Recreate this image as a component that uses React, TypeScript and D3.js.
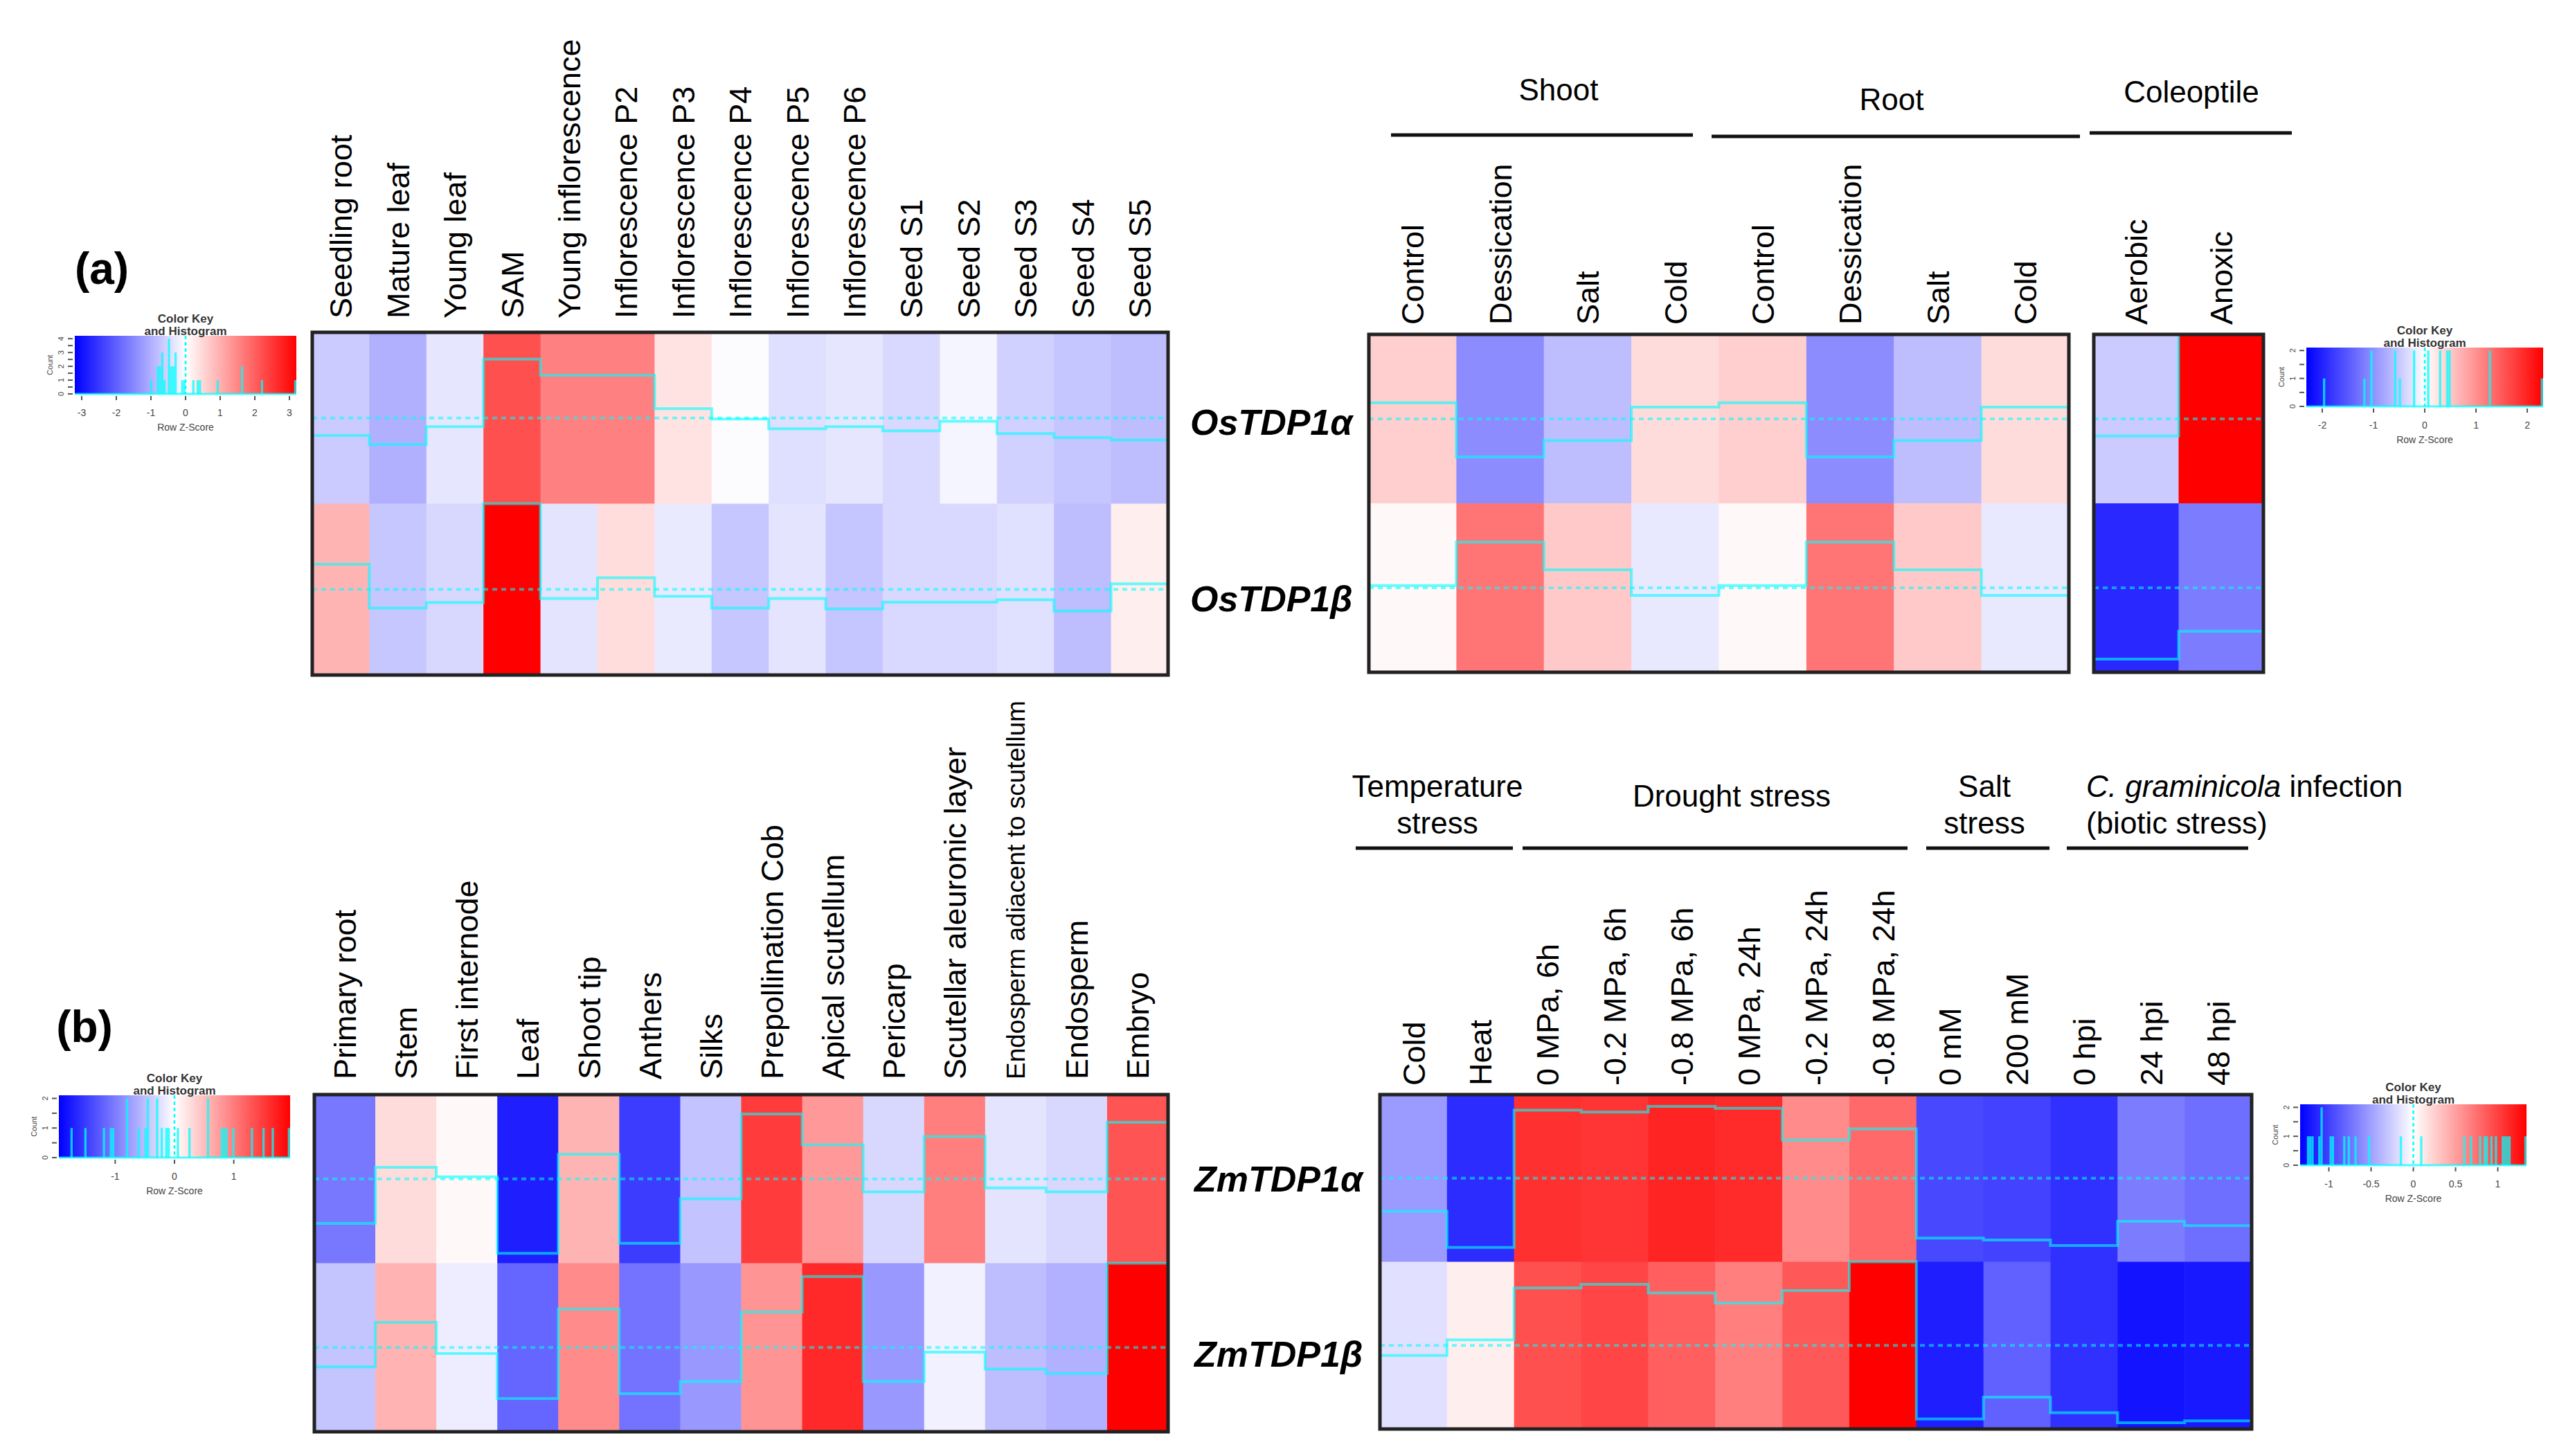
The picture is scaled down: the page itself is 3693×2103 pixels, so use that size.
import React from "react";
import * as d3 from "d3";

const FONT = "'Liberation Sans', Arial, Helvetica, sans-serif";
const TRACE = "#00ffff";

// (a) rice, tissues
const osTissues = [
  "Seedling root", "Mature leaf", "Young leaf", "SAM", "Young inflorescence",
  "Inflorescence P2", "Inflorescence P3", "Inflorescence P4", "Inflorescence P5",
  "Inflorescence P6", "Seed S1", "Seed S2", "Seed S3", "Seed S4", "Seed S5",
];
const osTissueAlpha = [-0.65, -0.99, -0.32, 2.2, 1.6, 1.6, 0.35, -0.04, -0.4, -0.32, -0.48, -0.12, -0.58, -0.73, -0.82];
const osTissueBeta = [0.94, -0.7, -0.49, 3.2, -0.34, 0.43, -0.26, -0.7, -0.34, -0.73, -0.48, -0.48, -0.39, -0.81, 0.21];

// (a) rice, stress (shoot + root) and coleoptile
const osStress = ["Control", "Dessication", "Salt", "Cold", "Control", "Dessication", "Salt", "Cold"];
const osStressAlpha = [0.44, -1.04, -0.59, 0.32, 0.44, -1.04, -0.59, 0.32];
const osStressBeta = [0.06, 1.25, 0.49, -0.21, 0.06, 1.25, 0.49, -0.21];
const osColeoptile = ["Aerobic", "Anoxic"];
const osColeAlpha = [-0.47, 2.31];
const osColeBeta = [-1.95, -1.19];

// (b) maize, tissues
const zmTissues = [
  "Primary root", "Stem", "First internode", "Leaf", "Shoot tip", "Anthers", "Silks",
  "Prepollination Cob", "Apical scutellum", "Pericarp", "Scutellar aleuronic layer",
  "Endosperm adiacent to scutellum", "Endosperm", "Embryo",
];
const zmTissueAlpha = [-1.03, 0.27, 0.05, -1.72, 0.57, -1.49, -0.46, 1.5, 0.79, -0.3, 0.98, -0.21, -0.3, 1.31];
const zmTissueBeta = [-0.45, 0.58, -0.14, -1.18, 0.89, -1.07, -0.79, 0.82, 1.64, -0.79, -0.11, -0.5, -0.6, 1.95];

// (b) maize, stress
const zmStress = [
  "Cold", "Heat", "0 MPa, 6h", "-0.2 MPa, 6h", "-0.8 MPa, 6h", "0 MPa, 24h",
  "-0.2 MPa, 24h", "-0.8 MPa, 24h", "0 mM", "200 mM", "0 hpi", "24 hpi", "48 hpi",
];
const zmStressAlpha = [-0.53, -1.11, 1.09, 1.06, 1.15, 1.12, 0.61, 0.79, -0.96, -0.99, -1.08, -0.69, -0.76];
const zmStressBeta = [-0.16, 0.09, 0.92, 0.98, 0.84, 0.68, 0.88, 1.34, -1.18, -0.83, -1.08, -1.24, -1.21];

const osGenes = ["OsTDP1α", "OsTDP1β"];
const zmGenes = ["ZmTDP1α", "ZmTDP1β"];

const keyTicksA1 = [-3, -2, -1, 0, 1, 2, 3];
const keyTicksA2 = [-2, -1, 0, 1, 2];
const keyTicksB1 = [-1, 0, 1];
const keyTicksB2 = [-1, -0.5, 0, 0.5, 1];

const smallLabels = new Set(["Endosperm adiacent to scutellum"]);

const maxAbs = (rows: number[][]) => d3.max(rows.flat(), (v) => Math.abs(v)) as number;

const colorFor = (R: number) =>
  d3.scaleLinear<string>().domain([-R, 0, R]).range(["#0000ff", "#ffffff", "#ff0000"]);

interface BlockProps {
  cols: string[];
  rows: number[][];
  R: number;
  x0: number;
  x1: number;
  y0: number;
  y1: number;
  gap?: number;
}

const Block = ({ cols, rows, R, x0, x1, y0, y1, gap = 20 }: BlockProps) => {
  const x = d3.scaleBand<number>().domain(d3.range(cols.length)).range([x0, x1]);
  const y = d3.scaleBand<number>().domain(d3.range(rows.length)).range([y0, y1]);
  const color = colorFor(R);
  const line = d3.line().curve(d3.curveStepAfter);
  return (
    <g>
      {rows.map((row, r) =>
        row.map((v, c) => (
          <rect
            key={`c${r}-${c}`}
            x={x(c)}
            y={y(r)}
            width={x.bandwidth() + 0.6}
            height={y.bandwidth() + 0.6}
            fill={color(v)}
          />
        ))
      )}
      {rows.map((row, r) => {
        const top = y(r) as number;
        const ty = d3.scaleLinear().domain([-R, R]).range([top + y.bandwidth(), top]);
        const pts: [number, number][] = row.map((v, c) => [x(c) as number, ty(v)]);
        pts.push([x1, ty(row[row.length - 1])]);
        return (
          <g key={`t${r}`}>
            <line x1={x0} x2={x1} y1={ty(0)} y2={ty(0)} stroke={TRACE} strokeWidth={4}
              strokeDasharray="7 6" opacity={0.55} />
            <path d={line(pts) || ""} fill="none" stroke={TRACE} strokeWidth={4} opacity={0.6} />
          </g>
        );
      })}
      <rect x={x0} y={y0} width={x1 - x0} height={y1 - y0} fill="none" stroke="#222" strokeWidth={5} />
      {cols.map((lab, c) => (
        <text
          key={`l${c}`}
          transform={`translate(${(x(c) as number) + x.bandwidth() / 2},${y0 - gap}) rotate(-90)`}
          dy="0.36em"
          fontSize={smallLabels.has(lab) ? 37 : 45}
          fill="#000"
        >
          {lab}
        </text>
      ))}
    </g>
  );
};

interface KeyProps {
  id: string;
  values: number[];
  R: number;
  ticks: number[];
  x0: number;
  x1: number;
  y0: number;
  y1: number;
}

const ColorKey = ({ id, values, R, ticks, x0, x1, y0, y1 }: KeyProps) => {
  const xs = d3.scaleLinear().domain([-R, R]).range([x0, x1]);
  const nb = 100;
  const step = (2 * R) / nb;
  const bins = d3
    .bin()
    .domain([-R, R])
    .thresholds(d3.range(1, nb).map((i) => -R + i * step))(values);
  const maxCount = (d3.max(bins, (b) => b.length) as number) || 1;
  const yc = d3.scaleLinear().domain([0, maxCount / 0.95]).range([y1, y0]);
  const countTicks = d3.range(0, maxCount + 0.01, 0.5);
  const cx = (x0 + x1) / 2;
  return (
    <g fontFamily={FONT}>
      <defs>
        <linearGradient id={id} x1="0" x2="1" y1="0" y2="0">
          <stop offset="0%" stopColor="#0000ff" />
          <stop offset="50%" stopColor="#ffffff" />
          <stop offset="100%" stopColor="#ff0000" />
        </linearGradient>
      </defs>
      <rect x={x0} y={y0} width={x1 - x0} height={y1 - y0} fill={`url(#${id})`} />
      {bins
        .filter((b) => b.length > 0)
        .map((b, i) => (
          <rect
            key={i}
            x={xs(b.x0 as number)}
            y={yc(b.length)}
            width={Math.max(xs(b.x1 as number) - xs(b.x0 as number), 3)}
            height={y1 - yc(b.length)}
            fill={TRACE}
            opacity={0.75}
          />
        ))}
      <line x1={x0} x2={x1} y1={y1} y2={y1} stroke={TRACE} strokeWidth={3} opacity={0.7} />
      <line x1={xs(0)} x2={xs(0)} y1={y0} y2={y1} stroke={TRACE} strokeWidth={2.5} strokeDasharray="5 4" />
      <text x={cx} y={y0 - 19} textAnchor="middle" fontSize={17} fontWeight="bold" fill="#333">Color Key</text>
      <text x={cx} y={y0 - 1} textAnchor="middle" fontSize={17} fontWeight="bold" fill="#333">and Histogram</text>
      {ticks.map((t) => (
        <g key={t}>
          <line x1={xs(t)} x2={xs(t)} y1={y1 + 3} y2={y1 + 9} stroke="#555" strokeWidth={2} />
          <text x={xs(t)} y={y1 + 32} textAnchor="middle" fontSize={14} fill="#444">{t}</text>
        </g>
      ))}
      <text x={cx} y={y1 + 53} textAnchor="middle" fontSize={14} fill="#444">Row Z-Score</text>
      {countTicks.map((t) => (
        <g key={`y${t}`}>
          <line x1={x0 - 10} x2={x0 - 3} y1={yc(t)} y2={yc(t)} stroke="#555" strokeWidth={2} />
          {Number.isInteger(t) && (
            <text transform={`translate(${x0 - 16},${yc(t)}) rotate(-90)`} textAnchor="middle"
              fontSize={11} fill="#444">{t}</text>
          )}
        </g>
      ))}
      <text transform={`translate(${x0 - 32},${(y0 + y1) / 2}) rotate(-90)`} textAnchor="middle"
        fontSize={11} fill="#444">Count</text>
    </g>
  );
};

const GeneLabels = ({ genes, x, ys }: { genes: string[]; x: number; ys: number[] }) => (
  <g>
    {genes.map((g, i) => (
      <text key={g} x={x} y={ys[i]} fontSize={52} fontWeight="bold" fontStyle="italic" fill="#000">
        {g}
      </text>
    ))}
  </g>
);

const Header = ({ lines, x, y, anchor = "middle" }: { lines: React.ReactNode[]; x: number; y: number; anchor?: string }) => (
  <g>
    {lines.map((l, i) => (
      <text key={i} x={x} y={y + i * 53} textAnchor={anchor} fontSize={44} fill="#000">
        {l}
      </text>
    ))}
  </g>
);

const Rule = ({ x1, x2, y }: { x1: number; x2: number; y: number }) => (
  <line x1={x1} x2={x2} y1={y} y2={y} stroke="#111" strokeWidth={5} />
);

export default function App() {
  const osT = [osTissueAlpha, osTissueBeta];
  const osS = [osStressAlpha, osStressBeta];
  const osC = [osColeAlpha, osColeBeta];
  const zmT = [zmTissueAlpha, zmTissueBeta];
  const zmS = [zmStressAlpha, zmStressBeta];
  const rA1 = maxAbs(osT);
  const rA2 = maxAbs([...osS, ...osC]);
  const rB1 = maxAbs(zmT);
  const rB2 = maxAbs(zmS);

  return (
    <svg
      width={3693}
      height={2103}
      style={{ position: "absolute", left: 0, top: 0, display: "block", background: "#fff" }}
      fontFamily={FONT}
    >
      <rect x={0} y={0} width={3693} height={2103} fill="#fff" />

      {/* ---------- (a) ---------- */}
      <text x={147} y={410} textAnchor="middle" fontSize={64} fontWeight="bold">(a)</text>
      <ColorKey id="keyA1" values={osT.flat()} R={rA1} ticks={keyTicksA1} x0={108} x1={428} y0={485} y1={569} />
      <Block cols={osTissues} rows={osT} R={rA1} x0={451} x1={1687} y0={480} y1={975} />
      <GeneLabels genes={osGenes} x={1719} ys={[628, 883]} />

      <Header lines={["Shoot"]} x={2251} y={145} />
      <Header lines={["Root"]} x={2732} y={159} />
      <Header lines={["Coleoptile"]} x={3165} y={148} />
      <Rule x1={2009} x2={2445} y={195} />
      <Rule x1={2472} x2={3004} y={197} />
      <Rule x1={3018} x2={3310} y={192} />
      <Block cols={osStress} rows={osS} R={rA2} x0={1977} x1={2988} y0={483} y1={971} gap={14} />
      <Block cols={osColeoptile} rows={osC} R={rA2} x0={3024} x1={3269} y0={483} y1={971} gap={14} />
      <ColorKey id="keyA2" values={[...osS, ...osC].flat()} R={rA2} ticks={keyTicksA2} x0={3331} x1={3673} y0={502} y1={587} />

      {/* ---------- (b) ---------- */}
      <text x={122} y={1505} textAnchor="middle" fontSize={64} fontWeight="bold">(b)</text>
      <ColorKey id="keyB1" values={zmT.flat()} R={rB1} ticks={keyTicksB1} x0={85} x1={419} y0={1582} y1={1672} />
      <Block cols={zmTissues} rows={zmT} R={rB1} x0={454} x1={1687} y0={1581} y1={2068} gap={22} />
      <GeneLabels genes={zmGenes} x={1725} ys={[1721, 1974]} />

      <Header lines={["Temperature", "stress"]} x={2076} y={1151} />
      <Header lines={["Drought stress"]} x={2501} y={1165} />
      <Header lines={["Salt", "stress"]} x={2866} y={1151} />
      <Header
        lines={[
          <>
            <tspan fontStyle="italic">C. graminicola</tspan> infection
          </>,
          "(biotic stress)",
        ]}
        x={3013}
        y={1151}
        anchor="start"
      />
      <Rule x1={1958} x2={2185} y={1225} />
      <Rule x1={2199} x2={2755} y={1225} />
      <Rule x1={2782} x2={2960} y={1225} />
      <Rule x1={2985} x2={3247} y={1225} />
      <Block cols={zmStress} rows={zmS} R={rB2} x0={1993} x1={3252} y0={1581} y1={2064} gap={13} />
      <ColorKey id="keyB2" values={zmS.flat()} R={rB2} ticks={keyTicksB2} x0={3322} x1={3649} y0={1595} y1={1683} />
    </svg>
  );
}
